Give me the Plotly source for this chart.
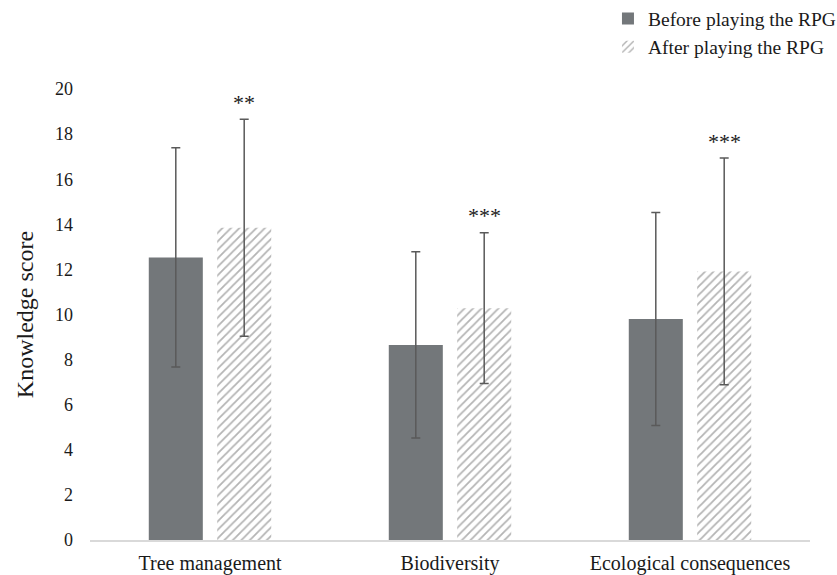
import plotly.graph_objects as go

categories = ["Tree management", "Biodiversity", "Ecological consequences"]
before_mean = [12.53, 8.65, 9.80]
before_sd = [4.86, 4.13, 4.72]
after_mean = [13.85, 10.28, 11.91]
after_sd = [4.81, 3.34, 5.03]
significance = ["**", "***", "***"]
y_ticks = [0, 2, 4, 6, 8, 10, 12, 14, 16, 18, 20]

FONT = "Liberation Serif, Times New Roman, serif"
ERR = "#5a5a5a"
TXT = "#1a1a1a"

fig = go.Figure()
fig.add_trace(go.Bar(
    name="Before playing the RPG", x=categories, y=before_mean,
    marker=dict(color="#73777a", line=dict(width=0)),
    error_y=dict(type="data", array=before_sd, visible=True, color=ERR, thickness=1.5, width=4.5),
))
fig.add_trace(go.Bar(
    name="After playing the RPG", x=categories, y=after_mean,
    marker=dict(color="white", line=dict(width=0),
                pattern=dict(shape="/", fgcolor="#6a6a6a", bgcolor="white", size=6, solidity=0.3)),
    error_y=dict(type="data", array=after_sd, visible=True, color=ERR, thickness=1.5, width=4.5),
))

for cat, m, sd, s in zip(categories, after_mean, after_sd, significance):
    fig.add_annotation(x=cat, y=m + sd, text=s, showarrow=False, xshift=34, yshift=17,
                       font=dict(family=FONT, size=22, color=TXT))

fig.update_layout(
    width=837, height=575,
    margin=dict(l=90, r=27, t=89, b=35, autoexpand=False),
    paper_bgcolor="white", plot_bgcolor="white",
    barmode="group", bargap=0.43, bargroupgap=0.21,
    font=dict(family=FONT, size=18, color=TXT),
    showlegend=True,
    legend=dict(x=0.7194, xanchor="left", y=1.199, yanchor="top",
                font=dict(family=FONT, size=19.5, color=TXT),
                bgcolor="rgba(0,0,0,0)", tracegroupgap=0, itemwidth=30),
    xaxis=dict(showline=True, linecolor="#d9d9d9", linewidth=1.5, ticks="", ticklabelstandoff=4,
               tickfont=dict(family=FONT, size=20, color=TXT), showgrid=False),
    yaxis=dict(range=[0, 20], tickvals=y_ticks, showline=False, showgrid=False, zeroline=False,
               ticks="", ticklabelstandoff=16, tickfont=dict(family=FONT, size=18, color=TXT),
               title=dict(text="Knowledge score", font=dict(family=FONT, size=24, color=TXT), standoff=14)),
)

fig.write_html("out.html", config={"displayModeBar": False},
               post_script="document.body.style.margin='0';document.body.style.padding='0';")
